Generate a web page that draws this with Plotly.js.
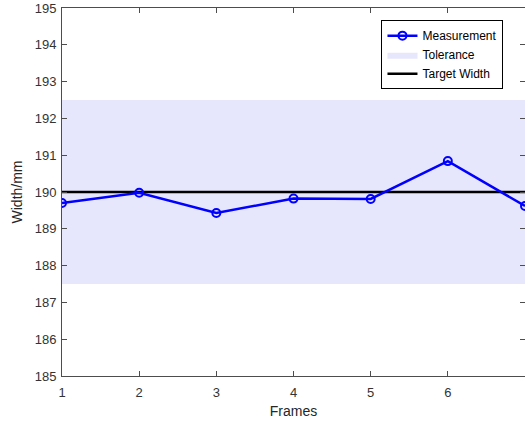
<!DOCTYPE html>
<html>
<head>
<meta charset="utf-8">
<script src="https://cdn.plot.ly/plotly-3.0.1.min.js"></script>
<style>html,body{margin:0;padding:0;background:#fff;}#chart{width:525px;height:425px;}</style>
</head>
<body>
<div id="chart"></div>
<script>
const frames = [1, 2, 3, 4, 5, 6, 7];
const widths = [189.70, 189.98, 189.43, 189.82, 189.81, 190.84, 189.62];
const targetWidth = 190;
const toleranceLow = 187.5;
const toleranceHigh = 192.5;
const yTicks = [185, 186, 187, 188, 189, 190, 191, 192, 193, 194, 195];
const xTicks = [1, 2, 3, 4, 5, 6, 7];

const xSpan = [frames[0], frames[frames.length - 1]];

const traces = [
  {
    x: xSpan, y: xSpan.map(() => toleranceLow),
    mode: 'lines', line: {width: 0, color: 'rgba(0,0,0,0)'},
    showlegend: false, hoverinfo: 'skip'
  },
  {
    x: xSpan, y: xSpan.map(() => toleranceHigh),
    mode: 'lines', line: {width: 0, color: 'rgba(0,0,0,0)'},
    fill: 'tonexty', fillcolor: 'rgb(230,230,252)',
    name: 'Tolerance', legendrank: 2
  },
  {
    x: xSpan, y: xSpan.map(() => targetWidth),
    mode: 'lines', line: {width: 2.5, color: '#000000'},
    name: 'Target Width', legendrank: 3
  },
  {
    x: frames, y: widths,
    mode: 'lines+markers',
    line: {width: 2.5, color: '#0000ff'},
    marker: {symbol: 'circle-open', size: 8, color: '#0000ff', line: {width: 2, color: '#0000ff'}},
    name: 'Measurement', legendrank: 1
  }
];

const axisCommon = {
  showgrid: false, zeroline: false,
  showline: true, linecolor: '#4d4d4d', linewidth: 1, mirror: 'ticks',
  ticks: 'inside', ticklen: 5, tickwidth: 1, tickcolor: '#4d4d4d',
  tickfont: {family: 'Liberation Sans, Arial, sans-serif', size: 13, color: '#333333'}
};

const layout = {
  width: 525, height: 425,
  margin: {l: 62, r: 0, t: 8, b: 49},
  paper_bgcolor: '#ffffff', plot_bgcolor: '#ffffff',
  showlegend: true,
  legend: {
    x: 0.69, y: 0.967, xanchor: 'left', yanchor: 'top',
    traceorder: 'normal',
    bgcolor: '#ffffff', bordercolor: '#000000', borderwidth: 1,
    font: {family: 'Liberation Sans, Arial, sans-serif', size: 12, color: '#000000'},
    tracegroupgap: 0
  },
  xaxis: Object.assign({}, axisCommon, {
    range: [xSpan[0], xSpan[1]], tickvals: xTicks, ticktext: xTicks.map(String),
    ticklabelstandoff: 4,
    title: {text: 'Frames', standoff: 7, font: {family: 'Liberation Sans, Arial, sans-serif', size: 14, color: '#262626'}}
  }),
  yaxis: Object.assign({}, axisCommon, {
    range: [yTicks[0], yTicks[yTicks.length - 1]], tickvals: yTicks, ticktext: yTicks.map(String),
    ticklabelstandoff: 2,
    title: {text: 'Width/mm', standoff: 8, font: {family: 'Liberation Sans, Arial, sans-serif', size: 14, color: '#262626'}}
  })
};

Plotly.newPlot('chart', traces, layout, {displayModeBar: false, staticPlot: true});
</script>
</body>
</html>
